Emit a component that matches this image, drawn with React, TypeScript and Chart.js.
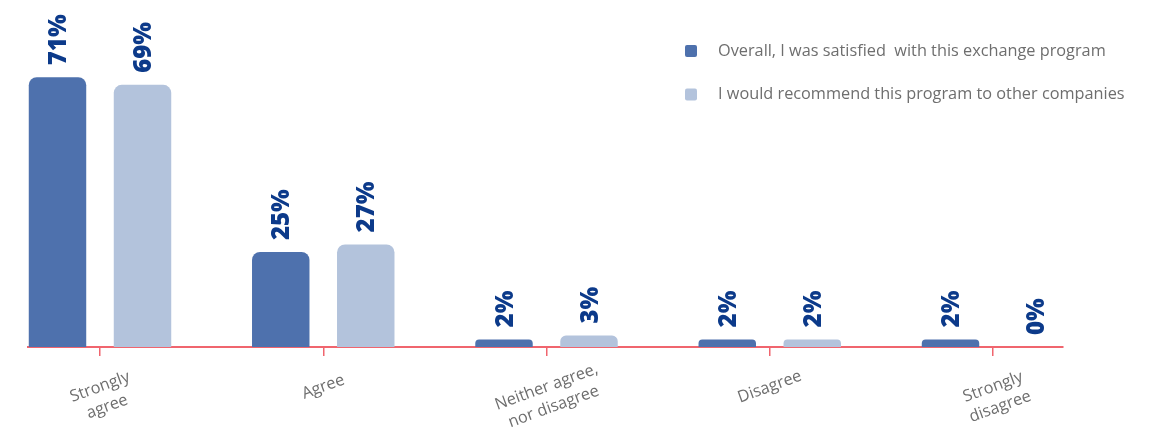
import React, { useEffect, useRef } from "react";
import { Chart, registerables } from "chart.js";

Chart.register(...registerables);

// ---- data ----
const categories: string[][] = [
  ["Strongly", "agree"],
  ["Agree"],
  ["Neither agree,", "nor disagree"],
  ["Disagree"],
  ["Strongly", "disagree"],
];
const satisfied = [71, 25, 2, 2, 2];
const recommend = [69, 27, 3, 2, 0];
const seriesNames = [
  "Overall, I was satisfied  with this exchange program",
  "I would recommend this program to other companies",
];
const seriesColors = ["#4E71AD", "#B3C3DC"];

const AXIS_RED = "#F0656E";
const TEXT_GRAY = "#6E6E6E";
const LABEL_NAVY = "#0C3A8A";

const valueLabelPlugin = {
  id: "valueLabels",
  afterDatasetsDraw(chart: any) {
    const ctx = chart.ctx;
    const size = 24;
    ctx.save();
    ctx.font = `800 ${size}px 'Open Sans'`;
    ctx.fillStyle = LABEL_NAVY;
    ctx.textAlign = "left";
    ctx.textBaseline = "alphabetic";
    chart.data.datasets.forEach((ds: any, di: number) => {
      const meta = chart.getDatasetMeta(di);
      meta.data.forEach((el: any, i: number) => {
        const v = ds.data[i].y;
        ctx.save();
        ctx.translate(el.x, el.y - 12);
        ctx.rotate(-Math.PI / 2);
        ctx.fillText(`${v}%`, 0, size * 0.36);
        ctx.restore();
      });
    });
    ctx.restore();
  },
};

const categoryLabelPlugin = {
  id: "categoryLabels",
  afterDraw(chart: any) {
    const ctx = chart.ctx;
    const xs = chart.scales.x;
    const baseY = chart.chartArea.bottom + 40;
    ctx.save();
    ctx.font = "16.3px 'Open Sans'";
    ctx.fillStyle = TEXT_GRAY;
    ctx.textAlign = "center";
    ctx.textBaseline = "middle";
    categories.forEach((lines, i) => {
      const x = xs.getPixelForValue(i);
      ctx.save();
      ctx.translate(x, baseY);
      ctx.rotate((-20 * Math.PI) / 180);
      lines.forEach((line, j) => {
        ctx.fillText(line, 0, j * 21);
      });
      ctx.restore();
    });
    ctx.restore();
  },
};

const legendPlugin = {
  id: "customLegend",
  afterDraw(chart: any) {
    const ctx = chart.ctx;
    ctx.save();
    ctx.font = "16.3px 'Open Sans'";
    ctx.textAlign = "left";
    ctx.textBaseline = "middle";
    chart.data.datasets.forEach((ds: any, i: number) => {
      const cy = 51 + i * 43.5;
      ctx.fillStyle = ds.backgroundColor;
      ctx.beginPath();
      if ((ctx as any).roundRect) {
        (ctx as any).roundRect(685, cy - 6, 12, 12, 2);
      } else {
        ctx.rect(685, cy - 6, 12, 12);
      }
      ctx.fill();
      ctx.fillStyle = TEXT_GRAY;
      ctx.fillText(ds.label, 718, cy);
    });
    ctx.restore();
  },
};

export default function App() {
  const canvasRef = useRef<HTMLCanvasElement | null>(null);

  useEffect(() => {
    if (!canvasRef.current) return;
    const chart = new Chart(canvasRef.current, {
      type: "bar",
      data: {
        datasets: [
          {
            label: seriesNames[0],
            data: satisfied.map((v, i) => ({ x: i, y: v })),
            backgroundColor: seriesColors[0],
            borderRadius: 8,
          },
          {
            label: seriesNames[1],
            data: recommend.map((v, i) => ({ x: i, y: v })),
            backgroundColor: seriesColors[1],
            borderRadius: 8,
          },
        ] as any,
      },
      options: {
        animation: false,
        responsive: false,
        devicePixelRatio: 1,
        layout: { padding: { left: 28, right: 92, top: 5, bottom: 74 } },
        datasets: {
          bar: { barPercentage: 0.676, categoryPercentage: 0.7615 },
        } as any,
        plugins: {
          legend: { display: false },
          tooltip: { enabled: false },
        },
        scales: {
          x: {
            type: "linear",
            min: -0.3225,
            max: 4.3135,
            offset: false,
            z: 1,
            afterBuildTicks: (s: any) => {
              s.ticks = categories.map((_, i) => ({ value: i }));
            },
            ticks: { display: false },
            grid: {
              display: true,
              offset: false,
              drawOnChartArea: false,
              drawTicks: true,
              tickLength: 9,
              color: AXIS_RED,
              lineWidth: 1.5,
            },
            border: { display: true, color: AXIS_RED, width: 2 },
          } as any,
          y: { display: false, min: 0, max: 90 },
        },
      },
      plugins: [valueLabelPlugin, categoryLabelPlugin, legendPlugin],
    });
    return () => chart.destroy();
  }, []);

  return (
    <div style={{ position: "fixed", left: 0, top: 0, width: 1155, height: 430, background: "#fff" }}>
      <canvas ref={canvasRef} width={1155} height={430} style={{ width: 1155, height: 430, display: "block" }} />
    </div>
  );
}
